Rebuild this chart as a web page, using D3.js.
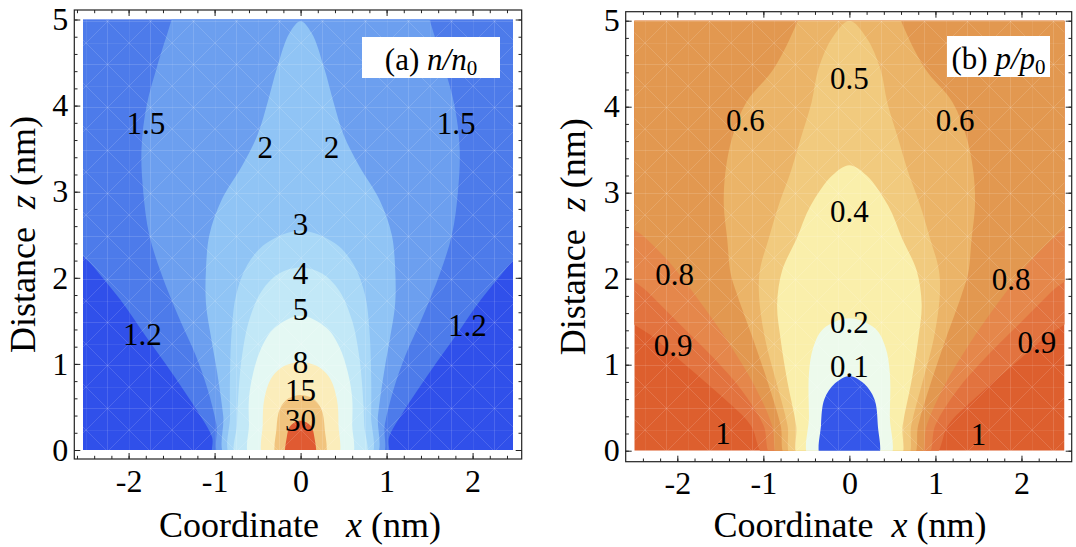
<!DOCTYPE html>
<html>
<head>
<meta charset="utf-8">
<script src="https://cdn.jsdelivr.net/npm/d3@7"></script>
<style>
    body { margin: 0; background: #fff; }
</style>
</head>
<body>
<div id="chart"></div>
<script>

// ---- DATA (data units: x in nm, z in nm) ----

// panel (a): density n/n0, contour levels and the boundary of {n > level}, left half only
const nLevels = [1.2, 1.5, 2, 3, 4, 5, 8, 15, 30];
const n_1_2 = [[-1.0,-0.1],[-1.03,0.15],[-1.2,0.45],[-1.5,0.9],[-1.8,1.32],[-2.1,1.75],[-2.4,2.12],[-2.7,2.5]];
const n_1_5 = [[-0.93,-0.1],[-0.98,0.3],[-1.08,0.7],[-1.22,1.1],[-1.42,1.55],[-1.62,2.05],[-1.76,2.5],[-1.83,3.0],[-1.85,3.5],[-1.79,4.0],[-1.67,4.45],[-1.5,5.0],[-1.42,5.3]];
const n_2 = [[-0.86,-0.1],[-0.9,0.4],[-0.97,0.9],[-1.04,1.3],[-1.1,1.7],[-1.1,2.1],[-1.06,2.5],[-0.92,2.9],[-0.68,3.3],[-0.5,3.66],[-0.38,4.05],[-0.27,4.45],[-0.13,4.84],[0,4.98]];
const n_3 = [[-0.8,-0.1],[-0.82,0.4],[-0.82,0.9],[-0.8,1.4],[-0.75,1.8],[-0.62,2.15],[-0.4,2.4],[0,2.55]];
const n_4 = [[-0.74,-0.1],[-0.74,0.3],[-0.72,0.7],[-0.68,1.1],[-0.6,1.5],[-0.45,1.85],[-0.25,2.05],[0,2.12]];
const n_5 = [[-0.58,-0.1],[-0.6,0.3],[-0.6,0.6],[-0.55,0.9],[-0.45,1.2],[-0.3,1.42],[0,1.56]];
const n_8 = [[-0.42,-0.1],[-0.44,0.3],[-0.42,0.6],[-0.33,0.85],[-0.18,0.98],[0,1.02]];
const n_15 = [[-0.27,-0.1],[-0.28,0.25],[-0.24,0.48],[-0.14,0.6],[0,0.64]];
const n_30 = [[-0.16,-0.1],[-0.16,0.15],[-0.12,0.28],[0,0.34]];
const nContours = [n_1_2, n_1_5, n_2, n_3, n_4, n_5, n_8, n_15, n_30];

const nLabelText = ["1.5", "1.5", "2", "2", "3", "4", "5", "8", "15", "30", "1.2", "1.2"];
const nLabelX = [-1.8, 1.81, -0.41, 0.36, 0, 0, 0, 0, 0, 0, -1.84, 1.94];
const nLabelZ = [3.8, 3.8, 3.52, 3.52, 2.62, 2.05, 1.64, 1.02, 0.69, 0.35, 1.34, 1.45];

// panel (b): pressure p/p0, boundary of {p < level}, left half only
const pLevels = [1, 0.9, 0.8, 0.6, 0.5, 0.4, 0.2, 0.1];
const p_1 = [[-0.95,-0.1],[-1.15,0.3],[-1.45,0.6],[-1.85,0.95],[-2.25,1.3],[-2.7,1.7]];
const p_0_9 = [[-0.88,-0.1],[-1.0,0.3],[-1.25,0.7],[-1.6,1.1],[-2.0,1.5],[-2.35,1.85],[-2.7,2.2]];
const p_0_8 = [[-0.8,-0.1],[-0.9,0.3],[-1.1,0.75],[-1.4,1.25],[-1.75,1.75],[-2.1,2.2],[-2.4,2.5],[-2.7,2.75]];
const p_0_6 = [[-0.72,-0.1],[-0.8,0.3],[-0.95,0.8],[-1.12,1.3],[-1.3,1.8],[-1.38,2.06],[-1.42,2.46],[-1.46,2.86],[-1.44,3.25],[-1.36,3.65],[-1.2,4.05],[-0.88,4.44],[-0.6,5.0],[-0.5,5.3]];
const p_0_5 = [[-0.66,-0.1],[-0.72,0.3],[-0.85,0.8],[-0.98,1.3],[-1.05,1.8],[-1.04,2.1],[-0.94,2.46],[-0.82,2.86],[-0.68,3.25],[-0.56,3.65],[-0.44,4.05],[-0.36,4.44],[-0.2,4.8],[0,5.0]];
const p_0_4 = [[-0.58,-0.1],[-0.62,0.3],[-0.72,0.8],[-0.8,1.3],[-0.84,1.7],[-0.78,2.1],[-0.62,2.45],[-0.45,2.85],[-0.2,3.2],[0,3.32]];
const p_0_2 = [[-0.46,-0.1],[-0.47,0.4],[-0.47,0.9],[-0.42,1.2],[-0.3,1.42],[0,1.54]];
const p_0_1 = [[-0.32,-0.1],[-0.33,0.3],[-0.29,0.6],[-0.17,0.78],[0,0.87]];
const pContours = [p_1, p_0_9, p_0_8, p_0_6, p_0_5, p_0_4, p_0_2, p_0_1];

const pLabelText = ["0.5", "0.6", "0.6", "0.4", "0.8", "0.8", "0.9", "0.9", "0.2", "0.1", "1", "1"];
const pLabelX = [0, -1.21, 1.23, 0, -2.03, 1.88, -2.05, 2.18, 0, 0, -1.47, 1.5];
const pLabelZ = [4.33, 3.84, 3.84, 2.79, 2.05, 1.99, 1.23, 1.26, 1.5, 0.98, 0.2, 0.19];

// tick values
const xTicks = [-2, -1, 0, 1, 2];
const zTicks = [0, 1, 2, 3, 4, 5];

// colour bands, outermost band first
const nColors = ["#3050ea", "#4d7bea", "#6c9fef", "#90c4f5", "#a9d8f7", "#c2e8f7", "#e4f8f3", "#fbedbb", "#f1c47e", "#e05a32"];
const pColors = ["#dd5f2e", "#e2733f", "#e5874b", "#e29850", "#ebb468", "#f1ca7e", "#faefab", "#edfaec", "#3557ea"];

const SERIF = "'Liberation Serif', 'Times New Roman', serif";


// ---- DRAWING ----

const svg = d3.select("#chart").append("svg")
    .attr("width", 1076)
    .attr("height", 547);

// faint white mesh, like the triangulation showing through the original rendering
let defs = svg.append("defs");
let mesh = defs.append("pattern")
    .attr("id", "mesh")
    .attr("patternUnits", "userSpaceOnUse")
    .attr("width", 43).attr("height", 43);
mesh.append("path")
    .attr("d", "M0,0H43M0,0V43M0,43L43,0M0,0L43,43M0,21.5H43M21.5,0V43")
    .attr("stroke", "#fff").attr("stroke-opacity", 0.17).attr("stroke-width", 0.8).attr("fill", "none");

// closed outline of one contour region: left half + its mirror image
function regionPoints(pts) {
    let left = pts.slice();
    let last = left[left.length - 1];
    // leaves through the side edge: carry it up over the top of the plot
    if (last[0] < -2.6) left.push([last[0], 5.4]);
    let right = left.filter(p => p[0] !== 0).map(p => [-p[0], p[1]]).reverse();
    return left.concat(right);
}

function drawPanel(opt) {
    let g = svg.append("g");

    let x = d3.scaleLinear().domain(opt.xDomain).range([opt.left, opt.right]);
    let z = d3.scaleLinear().domain([0, 5]).range([opt.bottom, opt.top]);

    let clipId = "clip-" + opt.name;
    defs.append("clipPath").attr("id", clipId)
        .append("rect")
        .attr("x", opt.left).attr("y", opt.top)
        .attr("width", opt.right - opt.left).attr("height", opt.bottom - opt.top);

    let plot = g.append("g").attr("clip-path", "url(#" + clipId + ")");

    // background band
    plot.append("rect")
        .attr("x", opt.left).attr("y", opt.top)
        .attr("width", opt.right - opt.left).attr("height", opt.bottom - opt.top)
        .attr("fill", opt.colors[0]);

    let line = d3.line()
        .x(d => x(d[0]))
        .y(d => z(d[1]))
        .curve(d3.curveCatmullRomClosed.alpha(0.5));

    plot.selectAll("path.band")
        .data(opt.contours)
        .enter().append("path")
        .attr("class", "band")
        .attr("d", d => line(regionPoints(d)))
        .attr("fill", (d, i) => opt.colors[i + 1]);

    plot.append("rect")
        .attr("x", opt.left).attr("y", opt.top)
        .attr("width", opt.right - opt.left).attr("height", opt.bottom - opt.top)
        .attr("fill", "url(#mesh)");

    // contour labels
    g.selectAll("text.clabel")
        .data(opt.labelText)
        .enter().append("text")
        .attr("class", "clabel")
        .attr("x", (d, i) => x(opt.labelX[i]))
        .attr("y", (d, i) => z(opt.labelZ[i]))
        .attr("dy", "0.35em")
        .attr("text-anchor", "middle")
        .style("font-family", SERIF)
        .style("font-size", "31px")
        .text(d => d);

    // frame
    g.append("rect")
        .attr("x", opt.frame[0]).attr("y", opt.frame[1])
        .attr("width", opt.frame[2] - opt.frame[0]).attr("height", opt.frame[3] - opt.frame[1])
        .attr("fill", "none").attr("stroke", "#222").attr("stroke-width", 1.2);

    let xMinor = d3.range(-26, 27, 2).map(v => v / 10).filter(v => x(v) > opt.frame[0] + 1 && x(v) < opt.frame[2] - 1);
    let zMinor = d3.range(0, 51, 2).map(v => v / 10);

    // ticks on all four sides, pointing inwards; labels only bottom and left
    let axes = [
        {gen: d3.axisBottom(x), at: "translate(0," + opt.frame[3] + ")", vals: xTicks, minor: xMinor, lab: true, pad: 10},
        {gen: d3.axisTop(x), at: "translate(0," + opt.frame[1] + ")", vals: xTicks, minor: xMinor, lab: false, pad: 6},
        {gen: d3.axisLeft(z), at: "translate(" + opt.frame[0] + ",0)", vals: zTicks, minor: zMinor, lab: true, pad: 6},
        {gen: d3.axisRight(z), at: "translate(" + opt.frame[2] + ",0)", vals: zTicks, minor: zMinor, lab: false, pad: 6}
    ];

    axes.forEach(a => {
        let minorG = g.append("g").attr("transform", a.at)
            .call(a.gen.tickValues(a.minor).tickSize(-3.2).tickFormat(""));
        minorG.select(".domain").remove();
        minorG.selectAll("line").attr("stroke", "#222");

        let majorG = g.append("g").attr("transform", a.at)
            .call(a.gen.tickValues(a.vals).tickSize(-6).tickPadding(a.pad)
                .tickFormat(a.lab ? (d => d < 0 ? "-" + Math.abs(d) : d) : ""));
        majorG.select(".domain").remove();
        majorG.selectAll("line").attr("stroke", "#222");
        majorG.selectAll("text")
            .style("font-family", SERIF)
            .style("font-size", "32px")
            .attr("fill", "#000");
    });

    // axis titles
    let xt = g.append("text")
        .attr("x", opt.xTitleX).attr("y", 537)
        .attr("text-anchor", "middle")
        .style("font-family", SERIF)
        .style("font-size", "36px")
        .style("white-space", "pre");
    xt.append("tspan").text(opt.xTitleWord);
    xt.append("tspan").style("font-style", "italic").text("x");
    xt.append("tspan").text(" (nm)");

    let yt = g.append("text")
        .attr("transform", "translate(" + opt.yTitleX + "," + ((opt.frame[1] + opt.frame[3]) / 2) + ") rotate(-90)")
        .attr("text-anchor", "middle")
        .style("font-family", SERIF)
        .style("font-size", "36px")
        .style("white-space", "pre");
    yt.append("tspan").text("Distance  ");
    yt.append("tspan").style("font-style", "italic").text("z");
    yt.append("tspan").text(" (nm)");

    // panel tag box
    g.append("rect")
        .attr("x", opt.tag[0]).attr("y", opt.tag[1])
        .attr("width", opt.tag[2] - opt.tag[0]).attr("height", opt.tag[3] - opt.tag[1])
        .attr("fill", "#fff");

    let tagText = g.append("text")
        .attr("x", (opt.tag[0] + opt.tag[2]) / 2).attr("y", opt.tag[1] + 33)
        .attr("text-anchor", "middle")
        .style("font-family", SERIF)
        .style("font-size", "31px")
        .style("white-space", "pre");
    tagText.append("tspan").text(opt.tagLetter + " ");
    tagText.append("tspan").style("font-style", "italic").text(opt.tagVar + "/" + opt.tagVar);
    tagText.append("tspan").attr("dy", "0.22em").style("font-size", "21px").text("0");
}

drawPanel({
    name: "a",
    xDomain: [-2.53, 2.47], left: 83, right: 513, top: 19.5, bottom: 450,
    frame: [74.3, 10, 521.7, 459],
    contours: nContours, colors: nColors,
    labelText: nLabelText, labelX: nLabelX, labelZ: nLabelZ,
    xTitleWord: "Coordinate   ", xTitleX: 300,
    yTitleX: 34.5,
    tag: [362, 37, 500, 78], tagLetter: "(a)", tagVar: "n"
});

drawPanel({
    name: "b",
    xDomain: [-2.5, 2.5], left: 634.3, right: 1064.5, top: 20.7, bottom: 450.7,
    frame: [625.7, 11.7, 1071.7, 461.7],
    contours: pContours, colors: pColors,
    labelText: pLabelText, labelX: pLabelX, labelZ: pLabelZ,
    xTitleWord: "Coordinate  ", xTitleX: 850,
    yTitleX: 584.5,
    tag: [947, 36, 1050, 77], tagLetter: "(b)", tagVar: "p"
});

</script>
</body>
</html>
